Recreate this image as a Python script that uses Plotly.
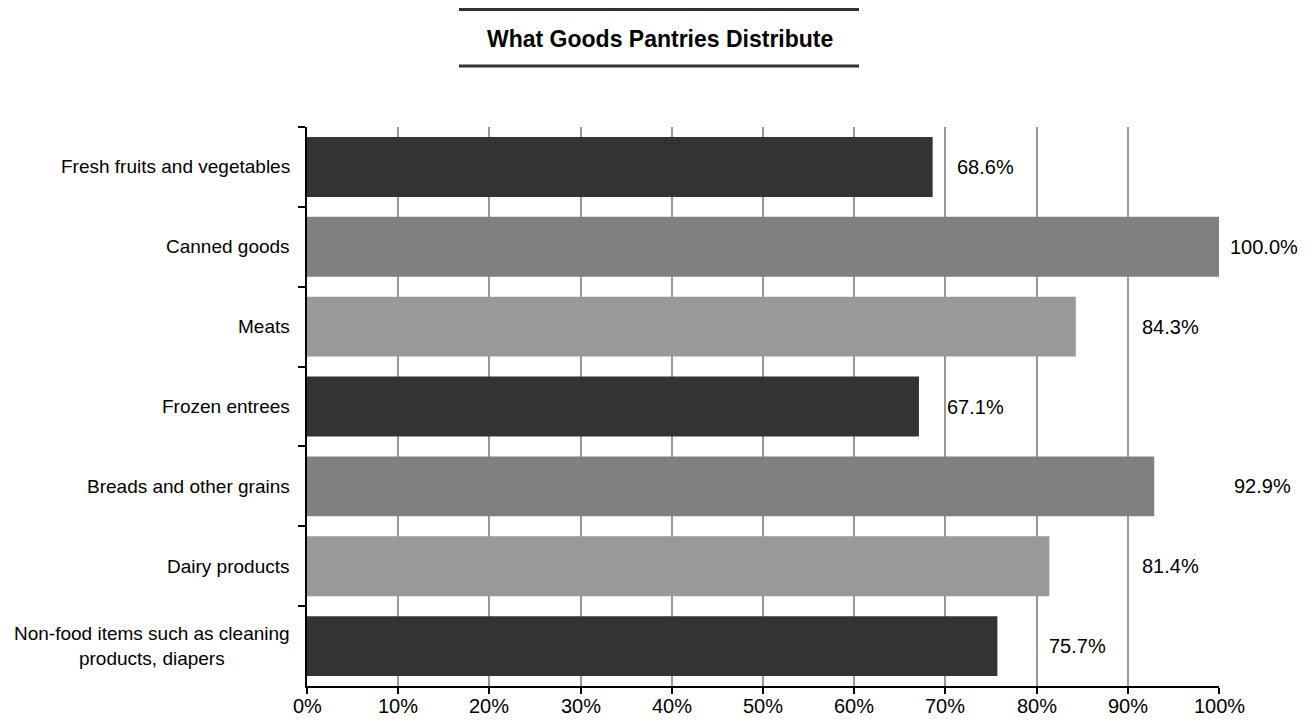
import plotly.graph_objects as go

categories = [
    "Fresh fruits and vegetables",
    "Canned goods",
    "Meats",
    "Frozen entrees",
    "Breads and other grains",
    "Dairy products",
    "Non-food items such as cleaning<br>products, diapers",
]
values = [68.6, 100.0, 84.3, 67.1, 92.9, 81.4, 75.7]
bar_colors = ["#333333", "#808080", "#999999", "#333333", "#808080", "#999999", "#333333"]
label_x = [71.0, 101.0, 91.3, 70.0, 101.4, 91.3, 81.1]
x_ticks = list(range(0, 101, 10))
x_tick_text = [f"{t}%" for t in x_ticks]

FONT = "Liberation Sans Narrow, Arial Narrow, Liberation Sans, Arial, sans-serif"

# page body has an 8px default margin; compensate
OFF = 8
W, H = 1314 - OFF, 725 - OFF
L, R, T, B = 307 - OFF, 95, 127 - OFF, 39
pw = W - L - R
ph = H - T - B


def px_x(p):
    return (p - OFF - L) / pw


def px_y(p):
    return (H - B - (p - OFF)) / ph


fig = go.Figure()
fig.add_trace(go.Bar(
    y=categories, x=values, orientation="h",
    marker=dict(color=bar_colors, line=dict(width=0)),
    hoverinfo="x+y",
))

for c, v, lx in zip(categories, values, label_x):
    fig.add_annotation(x=lx / 100.0, y=c, text=f"{v:.1f}%", showarrow=False,
                       xanchor="left", yanchor="middle", xref="paper", yref="y",
                       font=dict(size=20, color="#000000", family=FONT))

for c in categories:
    fig.add_annotation(x=px_x(292), y=c, text=c, showarrow=False,
                       xanchor="right", yanchor="middle", align="center",
                       xref="paper", yref="y",
                       font=dict(size=19, color="#000000", family=FONT))

for t, tt in zip(x_ticks, x_tick_text):
    fig.add_annotation(x=t, y=px_y(706), text=tt, showarrow=False,
                       xanchor="center", yanchor="middle",
                       xref="x", yref="paper",
                       font=dict(size=20, color="#000000", family=FONT))

for yy in (9.5, 66):
    fig.add_shape(type="line", xref="paper", yref="paper",
                  x0=px_x(459), x1=px_x(859), y0=px_y(yy), y1=px_y(yy),
                  line=dict(color="#333333", width=3))

fig.add_annotation(xref="paper", yref="paper", x=px_x(660), y=px_y(39),
                   text="<b>What Goods Pantries Distribute</b>", showarrow=False,
                   xanchor="center", yanchor="middle",
                   font=dict(size=23, color="#000000", family=FONT))

fig.update_layout(
    width=W, height=H,
    margin=dict(l=L, r=R, t=T, b=B, autoexpand=False),
    paper_bgcolor="white", plot_bgcolor="white",
    bargap=0.25,
    showlegend=False,
    font=dict(family=FONT, size=20, color="#000000"),
    xaxis=dict(range=[0, 100], tickvals=x_ticks, showticklabels=False,
               showgrid=True, gridcolor="#999999", gridwidth=1.5,
               showline=True, linecolor="#000000", linewidth=1.5,
               ticks="outside", ticklen=6, tickcolor="#000000", tickwidth=1.5,
               zeroline=False, fixedrange=True, automargin=False),
    yaxis=dict(autorange="reversed", type="category", tickson="boundaries",
               showline=True, linecolor="#000000", linewidth=1.5,
               ticks="outside", ticklen=7, tickcolor="#000000", tickwidth=1.5,
               showgrid=False, showticklabels=False, fixedrange=True,
               automargin=False),
)

fig.write_html("out.html")
